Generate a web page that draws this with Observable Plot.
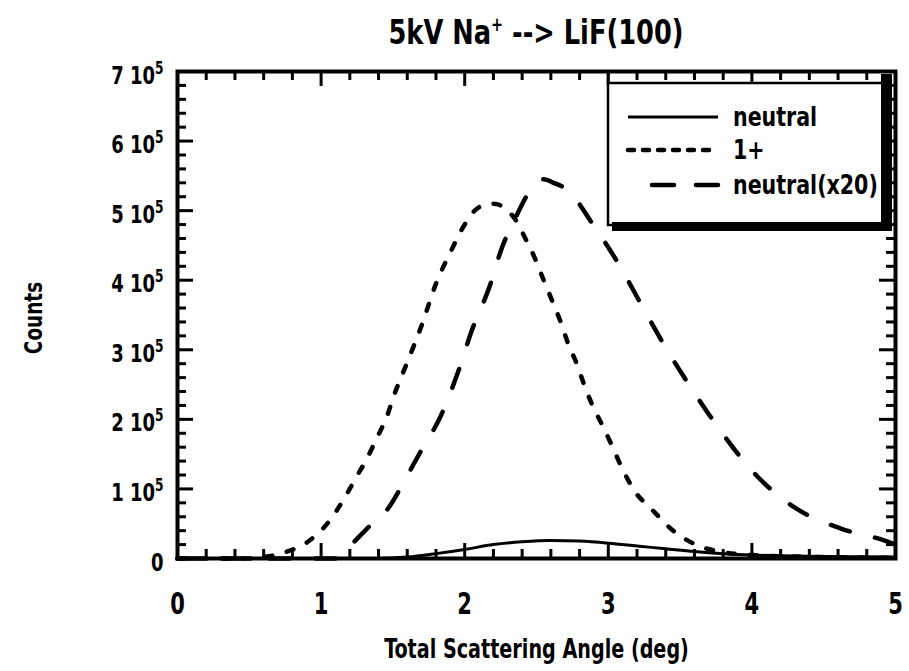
<!DOCTYPE html>
<html><head><meta charset="utf-8">
<script src="https://cdn.jsdelivr.net/npm/d3@7"></script>
<script src="https://cdn.jsdelivr.net/npm/@observablehq/plot@0.6"></script>
<style>
body{margin:0;background:#fff;}
#chart svg{display:block;}
</style></head><body><div id="chart"></div>
<script>
// ---- data (counts) ----
const neutralAngle  = [0, 0.5, 1.0, 1.4, 1.6, 1.8, 2.0, 2.2, 2.4, 2.6, 2.8, 3.0, 3.2, 3.4, 3.6, 3.8, 4.0, 4.5, 5.0];
const neutralCounts = [0, 0, 0, 0, 2000, 7000, 13000, 20000, 24000, 26000, 25000, 22000, 18000, 14000, 10000, 7000, 5000, 3000, 2000];

const plusAngle  = [0, 0.5, 0.6, 0.75, 0.9, 1.05, 1.16, 1.24, 1.32, 1.39, 1.46, 1.5, 1.6, 1.7, 1.8, 1.9, 2.0, 2.1, 2.2, 2.3, 2.35, 2.42, 2.49, 2.55, 2.61, 2.67, 2.72, 2.78, 2.83, 2.89, 2.96, 3.03, 3.10, 3.18, 3.31, 3.47, 3.62, 3.8, 4.0, 4.5, 5.0];
const plusCounts = [0, 0, 2000, 9000, 23000, 52000, 86000, 115000, 144000, 174000, 205000, 230000, 282000, 335000, 395000, 440000, 480000, 505000, 510000, 500000, 488000, 461000, 431000, 400000, 370000, 339000, 309000, 280000, 251000, 220000, 191000, 160000, 128000, 98000, 69000, 37000, 19000, 9000, 5000, 2000, 1000];

const x20Angle  = [0, 0.5, 1.1, 1.18, 1.32, 1.47, 1.55, 1.64, 1.73, 1.81, 1.95, 2.05, 2.17, 2.26, 2.35, 2.44, 2.55, 2.62, 2.72, 2.89, 3.07, 3.24, 3.40, 3.59, 3.78, 4.01, 4.30, 4.62, 4.92, 5.0];
const x20Counts = [0, 0, 0, 14000, 43000, 73000, 100000, 134000, 167000, 195000, 266000, 328000, 389000, 447000, 488000, 524000, 545000, 540000, 529000, 481000, 424000, 361000, 303000, 241000, 184000, 124000, 73000, 43000, 26000, 20000];

const xTicks = [0, 1, 2, 3, 4, 5];
const xTickLabels = ["0", "1", "2", "3", "4", "5"];
const yTicks = [0, 100000, 200000, 300000, 400000, 500000, 600000, 700000];
const yTickMantissa = ["0", "1 10", "2 10", "3 10", "4 10", "5 10", "6 10", "7 10"];
const yTickExponent = ["", "5", "5", "5", "5", "5", "5", "5"];

const seriesNames = ["neutral", "1+", "neutral(x20)"];
const titleMain = "5kV Na";
const titleSup = "+";
const titleRest = " --> LiF(100)";
const xLabel = "Total Scattering Angle (deg)";
const yLabel = "Counts";

// ---- build ----
const neutral = neutralAngle.map((a, i) => ({angle: a, counts: neutralCounts[i]}));
const plus = plusAngle.map((a, i) => ({angle: a, counts: plusCounts[i]}));
const x20 = x20Angle.map((a, i) => ({angle: a, counts: x20Counts[i]}));

const xMinor = d3.range(0, 5.0001, 0.2).filter(v => Math.abs(v - Math.round(v)) > 1e-6);
const yMinor = d3.range(0, 700001, 20000).filter(v => v % 100000 !== 0);

const W = 909, H = 671, mL = 177, mR = 14, mT = 71, mB = 113;
const fh = H - mT - mB, fw = W - mL - mR;
const font = '"DejaVu Sans",sans-serif';

const yLab = new Map(yTicks.map((t, i) => [t, yTickMantissa[i]]));
const xLab = new Map(xTicks.map((t, i) => [t, xTickLabels[i]]));

const plot = Plot.plot({
  width: W, height: H,
  marginLeft: mL, marginRight: mR, marginTop: mT, marginBottom: mB,
  style: {fontFamily: font, fontWeight: "bold", fontStretch: "condensed", color: "black", background: "white", overflow: "visible"},
  x: {domain: [0, 5], label: null},
  y: {domain: [0, 700000], label: null},
  marks: [
    Plot.line(neutral, {x: "angle", y: "counts", stroke: "black", strokeWidth: 3, curve: "monotone-x"}),
    Plot.line(plus, {x: "angle", y: "counts", stroke: "black", strokeWidth: 4.5, strokeDasharray: "7,15", strokeLinecap: "round", curve: "monotone-x"}),
    Plot.line(x20, {x: "angle", y: "counts", stroke: "black", strokeWidth: 4.5, strokeDasharray: "20,26", strokeLinecap: "round", curve: "monotone-x"}),
    // inward ticks, bottom and top
    Plot.tickX(xTicks, {x: d => d, insetTop: fh - 15, stroke: "black", strokeWidth: 3}),
    Plot.tickX(xMinor, {x: d => d, insetTop: fh - 9, stroke: "black", strokeWidth: 3}),
    Plot.tickX(xTicks, {x: d => d, insetBottom: fh - 15, stroke: "black", strokeWidth: 3}),
    Plot.tickX(xMinor, {x: d => d, insetBottom: fh - 9, stroke: "black", strokeWidth: 3}),
    // inward ticks, left and right
    Plot.tickY(yTicks, {y: d => d, insetRight: fw - 16, stroke: "black", strokeWidth: 3}),
    Plot.tickY(yMinor, {y: d => d, insetRight: fw - 9, stroke: "black", strokeWidth: 3}),
    Plot.tickY(yTicks, {y: d => d, insetLeft: fw - 16, stroke: "black", strokeWidth: 3}),
    Plot.tickY(yMinor, {y: d => d, insetLeft: fw - 9, stroke: "black", strokeWidth: 3}),
    Plot.frame({stroke: "black", strokeWidth: 4}),
    Plot.axisX({ticks: xTicks, tickSize: 0, tickPadding: 34, fontSize: 30, tickFormat: d => xLab.get(d), label: null}),
    Plot.axisY({ticks: yTicks, tickSize: 0, tickPadding: 14, fontSize: 25, tickFormat: d => yLab.get(d), label: null, dy: 4}),
    Plot.text([xLabel], {text: d => d, frameAnchor: "bottom", lineAnchor: "middle", dy: 91, fontSize: 26, fill: "black"}),
    Plot.text([yLabel], {text: d => d, frameAnchor: "left", textAnchor: "middle", dx: -144, dy: 3, rotate: -90, fontSize: 25, fill: "black"})
  ]
});
document.getElementById("chart").appendChild(plot);

const svg = d3.select(plot);
const squeeze = (sel, sx) => sel.each(function() {
  const t = this.getAttribute("transform") || "";
  this.setAttribute("transform", `${t} scale(${sx},1)`);
});

// superscript exponents on y tick labels
const yTexts = svg.selectAll('g[aria-label="y-axis tick label"] text');
yTexts.each(function() {
  const t = d3.select(this);
  const idx = yTickMantissa.indexOf(t.text());
  if (idx >= 0 && yTickExponent[idx]) {
    t.append("tspan").attr("dy", -10).attr("font-size", 17).text(yTickExponent[idx]);
  }
});
squeeze(yTexts, 0.8);
squeeze(svg.selectAll('g[aria-label="x-axis tick label"] text'), 0.78);
squeeze(svg.selectAll('g[aria-label="text"] text'), 0.82);

// title
const title = svg.append("text")
  .attr("transform", `translate(${mL + fw / 2},44) scale(0.84,1)`)
  .attr("text-anchor", "middle")
  .attr("font-size", 34).attr("font-weight", "bold").attr("fill", "black");
title.append("tspan").text(titleMain);
title.append("tspan").attr("dy", -13).attr("font-size", 19).text(titleSup);
title.append("tspan").attr("dy", 13).text(titleRest);

// legend (anchored to the top-right corner of the frame)
const fr = mL + fw, ft = mT;
const lg = svg.append("g").attr("text-anchor", "start");
lg.append("line").attr("x1", fr - 287).attr("x2", fr - 287).attr("y1", ft).attr("y2", ft + 12).attr("stroke", "black").attr("stroke-width", 2.5);
lg.append("rect").attr("x", fr - 287).attr("y", ft + 12).attr("width", 276).attr("height", 142)
  .attr("fill", "white").attr("stroke", "black").attr("stroke-width", 2.5);
lg.append("rect").attr("x", fr - 14).attr("y", ft + 3).attr("width", 11).attr("height", 157).attr("fill", "black");
lg.append("rect").attr("x", fr - 283).attr("y", ft + 151).attr("width", 280).attr("height", 9).attr("fill", "black");
const rows = [
  {name: seriesNames[0], y: ft + 46, x1: fr - 267, dash: null, w: 3},
  {name: seriesNames[1], y: ft + 79, x1: fr - 267, dash: "6,9", w: 4.5},
  {name: seriesNames[2], y: ft + 114, x1: fr - 243, dash: "22,22", w: 4.5}
];
rows.forEach(r => {
  lg.append("line").attr("x1", r.x1).attr("x2", fr - 177).attr("y1", r.y).attr("y2", r.y)
    .attr("stroke", "black").attr("stroke-width", r.w).attr("stroke-dasharray", r.dash)
    .attr("stroke-linecap", r.dash ? "round" : "butt");
  lg.append("text").attr("transform", `translate(${fr - 162},${r.y}) scale(0.88,1)`).attr("dy", "0.35em").attr("text-anchor", "start")
    .attr("font-size", 26).attr("font-weight", "bold").attr("fill", "black").text(r.name);
});
</script></body></html>
